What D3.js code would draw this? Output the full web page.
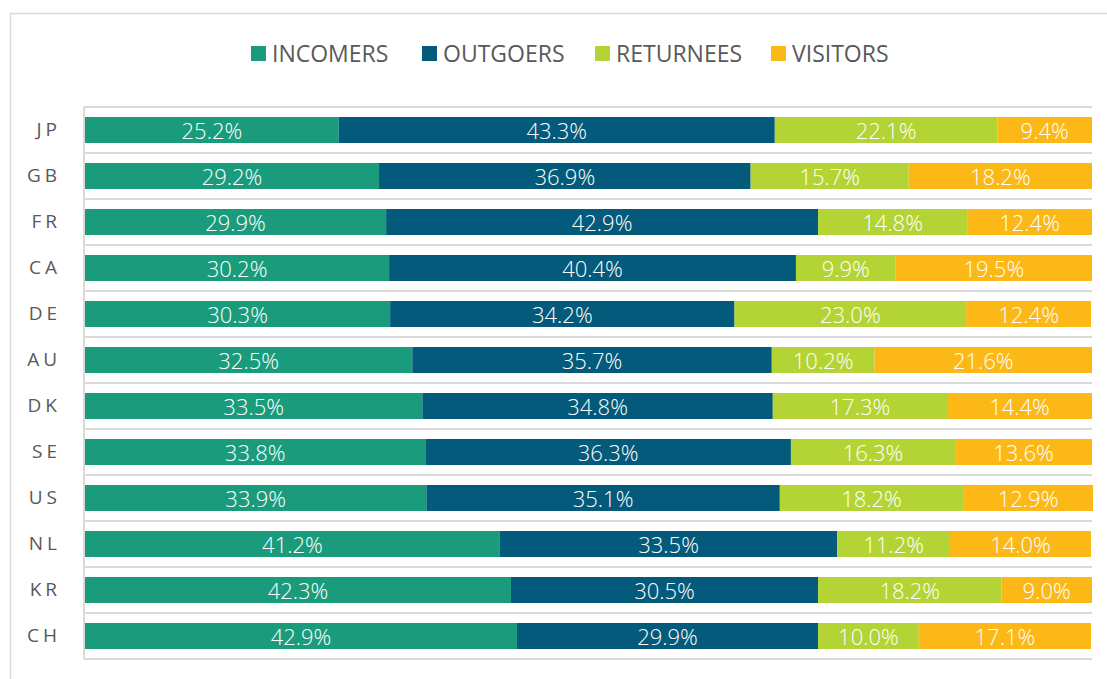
<!DOCTYPE html>
<html>
<head>
<meta charset="utf-8">
<script src="https://cdn.jsdelivr.net/npm/d3@7"></script>
<style>
  body { margin: 0; background: #fff; }
  svg { display: block; font-family: "Open Sans", "Noto Sans", sans-serif; }
</style>
</head>
<body>
<svg id="chart" width="1107" height="679"></svg>
<script>
// data
var countries = ["JP", "GB", "FR", "CA", "DE", "AU", "DK", "SE", "US", "NL", "KR", "CH"];
var series = ["INCOMERS", "OUTGOERS", "RETURNEES", "VISITORS"];
var incomers  = [25.2, 29.2, 29.9, 30.2, 30.3, 32.5, 33.5, 33.8, 33.9, 41.2, 42.3, 42.9];
var outgoers  = [43.3, 36.9, 42.9, 40.4, 34.2, 35.7, 34.8, 36.3, 35.1, 33.5, 30.5, 29.9];
var returnees = [22.1, 15.7, 14.8, 9.9, 23.0, 10.2, 17.3, 16.3, 18.2, 11.2, 18.2, 10.0];
var visitors  = [9.4, 18.2, 12.4, 19.5, 12.4, 21.6, 14.4, 13.6, 12.9, 14.0, 9.0, 17.1];
var colors = ["#1a9c7c", "#035a7b", "#b4d335", "#fbb817"];

var plotLeft = 85, plotRight = 1092, plotTop = 107, plotBottom = 659;

var svg = d3.select("#chart");

// outer frame (clipped on right and bottom like the original)
svg.append("rect")
    .attr("x", 10.5).attr("y", 13.5)
    .attr("width", 1200).attr("height", 800)
    .attr("fill", "none")
    .attr("stroke", "#d9d9d9")
    .attr("stroke-width", 1.5);

var table = countries.map(function(c, i) {
    return { country: c, INCOMERS: incomers[i], OUTGOERS: outgoers[i], RETURNEES: returnees[i], VISITORS: visitors[i] };
});

var stacked = d3.stack().keys(series)(table);

var x = d3.scaleLinear().domain([0, 100]).range([plotLeft, plotRight]);
var y = d3.scaleBand().domain(countries).range([plotTop, plotBottom]).paddingInner(0.435).paddingOuter(0.2175);
var color = d3.scaleOrdinal().domain(series).range(colors);

// grid lines between categories
var step = (plotBottom - plotTop) / countries.length;
var grid = d3.range(countries.length + 1).map(function(i) { return plotTop + i * step; });
svg.append("g").selectAll("line")
    .data(grid)
    .enter().append("line")
    .attr("x1", plotLeft - 1).attr("x2", plotRight)
    .attr("y1", function(d) { return d; })
    .attr("y2", function(d) { return d; })
    .attr("stroke", "#d9d9d9")
    .attr("stroke-width", 2);

svg.append("line")
    .attr("x1", plotLeft - 1).attr("x2", plotLeft - 1)
    .attr("y1", plotTop).attr("y2", plotBottom)
    .attr("stroke", "#d9d9d9")
    .attr("stroke-width", 2);

var layer = svg.append("g").selectAll("g")
    .data(stacked)
    .enter().append("g")
    .attr("fill", function(d) { return color(d.key); });

layer.selectAll("rect")
    .data(function(d) { return d; })
    .enter().append("rect")
    .attr("x", function(d) { return x(d[0]); })
    .attr("y", function(d) { return y(d.data.country); })
    .attr("width", function(d) { return x(d[1]) - x(d[0]); })
    .attr("height", y.bandwidth());

layer.selectAll("text")
    .data(function(d) { return d; })
    .enter().append("text")
    .attr("x", function(d) { return (x(d[0]) + x(d[1])) / 2; })
    .attr("y", function(d) { return y(d.data.country) + y.bandwidth() / 2; })
    .attr("dy", "0.42em")
    .attr("text-anchor", "middle")
    .attr("fill", "#fff")
    .style("font-size", "22px")
    .style("font-weight", 300)
    .text(function(d) { return (d[1] - d[0]).toFixed(1) + "%"; });

// category axis
var yAxis = svg.append("g")
    .attr("transform", "translate(" + (plotLeft - 24) + ",0)")
    .call(d3.axisLeft(y).tickSize(0).tickPadding(0));
yAxis.select(".domain").remove();
yAxis.selectAll("text")
    .attr("fill", "#595959")
    .style("font-size", "19px")
    .style("letter-spacing", "4px")
    .style("font-family", "'Open Sans', sans-serif");

// legend
var legendX = [251, 422, 595, 771];
var legend = svg.append("g").selectAll("g")
    .data(series)
    .enter().append("g")
    .attr("transform", function(d, i) { return "translate(" + legendX[i] + ",46)"; });
legend.append("rect")
    .attr("width", 15).attr("height", 15)
    .attr("fill", function(d) { return color(d); });
legend.append("text")
    .attr("x", 21).attr("y", 7.5)
    .attr("dy", "0.36em")
    .attr("fill", "#595959")
    .style("font-size", "23px")
    .text(function(d) { return d; });
</script>
</body>
</html>
